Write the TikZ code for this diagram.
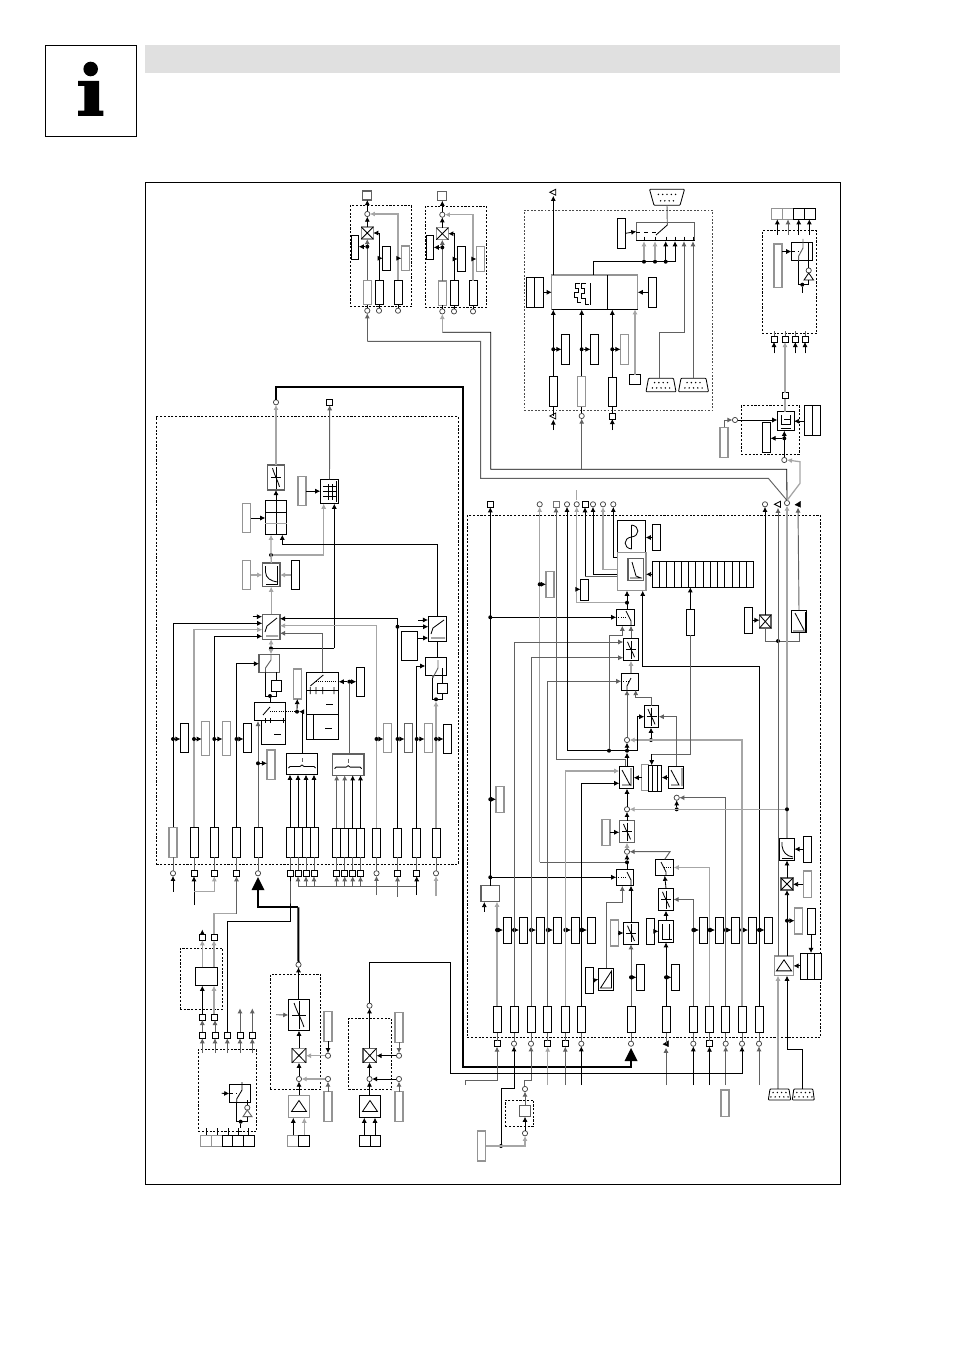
\documentclass[tikz,border=0pt]{standalone}
\usetikzlibrary{arrows.meta,calc}
\tikzset{
 x=0.75pt,y=-0.75pt,
 kl/.style={draw=black,line width=.62pt},
 gl/.style={draw=black!62,line width=.7pt},
 ll/.style={draw=black!35,line width=.95pt},
 xl/.style={draw=black!35,line width=1.4pt},
 tl/.style={draw=black,line width=1.5pt},
 ar/.style={-{Latex[length=3.8pt,width=3.8pt]}},
 bk/.style={rectangle,draw=black,line width=.7pt,inner sep=0,outer sep=0,fill=white},
 bg/.style={rectangle,draw=black!42,line width=.95pt,inner sep=0,outer sep=0,fill=white},
 bm/.style={rectangle,draw=black!62,line width=.85pt,inner sep=0,outer sep=0,fill=white},
 dp/.style={rectangle,draw=black,line width=.5pt,dash pattern=on 1.6pt off 1.2pt,inner sep=0,outer sep=0},
 hdr/.style={rectangle,fill=black!12,inner sep=0,outer sep=0},
 cc/.style={circle,draw=black!75,line width=.55pt,fill=white,inner sep=0,outer sep=0,minimum size=3.9pt},
 ss/.style={rectangle,draw=black,line width=.65pt,fill=white,inner sep=0,outer sep=0,minimum size=4.4pt},
 dd/.style={circle,fill=black,inner sep=0,outer sep=0,minimum size=3pt},
}
\newcommand\Bx[6][bk]{\node[#1,minimum width={(#5-#3)*.75pt},minimum height={(#6-#4)*.75pt}] (#2) at ({(#3+#5)/2},{(#4+#6)/2}) {};}
\newcommand\Vb[5][bk]{\node[#1,minimum width=6pt,minimum height={(#5-#4)*.75pt}] (#2) at (#3,{(#4+#5)/2}) {};}
\newcommand\Ci[3]{\node[cc] (#1) at (#2,#3) {};}
\newcommand\Sq[3]{\node[ss] (#1) at (#2,#3) {};}
\newcommand\Dt[3]{\node[dd] (#1) at (#2,#3) {};}
% dot on a line and short arrow to a bar on its right
\newcommand\Tap[4]{\Dt{#1}{#2}{#3}\draw[kl,ar] (#1) -- (#1 -| #4.west);}
\newcommand\Tal[4]{\Dt{#1}{#2}{#3}\draw[kl,ar] (#1) -- (#1 -| #4.east);}
\newcommand\Xs[1]{\draw[kl] (#1.north west)--(#1.south east) (#1.north east)--(#1.south west);}
\newcommand\Scv[3]{\draw[kl,shift={(#1.center)}] (-#2,0)--(#2,0) (0,-#3)--(0,#3);
 \draw[kl,shift={(#1.center)}] (-#2*.7,-#3*.85) .. controls (-#2*.2,-#3*.1) and (#2*.2,#3*.1) .. (#2*.7,#3*.85);}
\newcommand\Tri[1]{\draw[kl,shift={(#1.center)}] (0,-6)--(7.5,5)--(-7.5,5)--cycle;}
\newcommand\Brc[1]{\draw[kl,shift={(#1.center)}] (-13.5,4)--(-12,2.5)--(-2,2.5)--(0,1)--(2,2.5)--(12,2.5)--(13.5,4);
 \draw[gl,shift={(#1.center)}] (0,-6)--(0,-2);}
\newcommand\Lt[3]{\coordinate (#1) at (#2,#3); \draw[kl,fill=white] ({#2-3.5},#3)--({#2+2.5},{#3-3})--({#2+2.5},{#3+3})--cycle;}
\newcommand\Bt[3]{\coordinate (#1) at (#2,#3); \draw[black,fill=black,line width=.2pt] ({#2-3},{#3+.5})--({#2+2.5},{#3-3})--({#2+2.5},{#3+3})--cycle;}
\newcommand\BigT[3]{\coordinate (#1) at (#2,{#3+13}); \fill ({#2},#3)--({#2+6.5},{#3+13})--({#2-6.5},{#3+13})--cycle;}
\newcommand\Dsb[7]{\coordinate (#1) at (#2,{(#3+#4)/2});
 \draw[kl,fill=white,rounded corners=.6pt] ({#2-#5},#3)--({#2+#5},#3)--({#2+#6},#4)--({#2-#6},#4)--cycle;
 \pgfmathtruncatemacro\nb{9-#7}
 \foreach \i in {1,...,#7} \fill ({#2+(\i-(#7+1)/2)*4.3},{#3+(#4-#3)*.32}) circle[radius=.8];
 \foreach \i in {1,...,\nb} \fill ({#2+(\i-(\nb+1)/2)*4.3},{#3+(#4-#3)*.72}) circle[radius=.8];}
% one of the two gated output groups at the top
\newcommand\TopG[1]{
 \Bx[dp]{#1p}{350.3}{205.3}{411.7}{306.7}
 \Bx[bm]{#1s}{362.8}{191}{371.8}{200}
 \Ci{#1c}{367.3}{214}
 \Bx[bg]{#1x}{361.3}{227}{373.3}{239}\Xs{#1x}
 \Bx{#1l}{351.3}{235}{358.7}{259}
 \Vb[bg]{#1b1}{367.3}{280.3}{304.7}
 \Vb{#1b2}{379}{280}{304.7}
 \Vb{#1b3}{398}{280}{304.7}
 \Vb{#1r1}{386.7}{246}{270.7}
 \Vb[bg]{#1r2}{405.4}{246}{270.7}
 \Ci{#1c1}{367.3}{310.7}\Ci{#1c2}{379}{310.7}\Ci{#1c3}{398}{310.7}
 \draw[kl,ar] (#1c.north)--(#1s.south);
 \draw[kl,ar] (#1x.north)--(#1c.south);
 \draw[gl,ar] (#1b1.north)--(#1x.south);
 \draw[ll,ar] (#1b3.north)|-(#1c.east);
 \draw[kl,ar] (#1b2.north)|-(#1x.east);
 \Tal{#1d}{367.3}{246.7}{#1l}
 \draw[kl,ar] (379,258.3)--(#1r1.west |- 0,258.3);
 \draw[kl,ar] (398,258.3)--(#1r2.west |- 0,258.3);
 \draw[kl] (#1b1.south)--(#1c1.north) (#1b2.south)--(#1c2.north) (#1b3.south)--(#1c3.north);
}
\begin{document}
\begin{tikzpicture}
\useasboundingbox (0,0) rectangle (953,1348);
\fill[white] (0,0) rectangle (953,1348);
\Bx[hdr]{hdr}{145}{45}{840}{73}
\Bx{icon}{45}{45}{136}{136}
\fill (90.7,69) circle[radius=7.3];
\fill (78,81)--(99,81)--(99,110.7)--(103.3,110.7)--(103.3,116)--(78,116)--(78,110.7)--(84.3,110.7)--(84.3,86)--(78,86)--cycle;
\Bx{frame}{145.5}{182.5}{840.5}{1184}
\Bx[dp]{pL}{156.5}{416.5}{458}{864.5}
\Bx[dp]{pR}{467.3}{515.5}{820.7}{1037.3}
\node[rectangle,draw=black!70,line width=.5pt,dash pattern=on 1.4pt off 1.2pt,inner sep=0,outer sep=0,minimum width={188.4*.75pt},minimum height={200*.75pt}] (pT) at (618.5,310.3) {};

%%% TOP GROUPS
\begin{scope}\TopG{a}\end{scope}
\begin{scope}[shift={(75,.7)}]\TopG{b}\end{scope}

%%% RIGHT-TOP PANEL
\Lt{tq}{553.3}{192.3}
\Dsb{dbT}{667}{189.3}{205.3}{17.5}{13}{5}
\Bx[bg]{main}{551.7}{275}{637.7}{309.3}
\draw[kl] (607.7,275)--(607.7,309.3) (551.7,309.3)--(637.7,309.3);
\draw[kl] (580,283.5)--(575,283.5)--(575,288)--(578,288)--(578,292)--(574,292)--(574,297)--(577,297)--(577,302)--(581,302)
 (586,283.5)--(581,283.5)--(581,288)--(584,288)--(584,293)--(581,293)--(581,298)--(585,298)--(585,304)--(589,304)
 (590,283)--(590,305);
\Bx{mL}{526.7}{277.3}{543}{307.3}\draw[kl] (mL.north)--(mL.south);
\Vb{mR}{652.5}{277.3}{307.3}
\Bx[bm]{sw0}{636.3}{222.3}{694.7}{240.7}
\draw[kl] (636.3,240.7)--(694.7,240.7);
\Vb{swb}{621.5}{218.3}{248.3}
\draw[kl,ar] (swb.east)--(sw0.west);
\draw[kl,dashed] (636.3,232)--(656,232);
\draw[kl] (656,235)--(667.3,225);
\draw[gl] (dbT)++(0,8)--(667.3,225);
\draw[kl] (644,236.7)--(644,240.7) (655,236.7)--(655,240.7) (666,236.7)--(666,240.7) (675,236.7)--(675,240.7) (684,236.7)--(684,240.7) (693,236.7)--(693,240.7);
\Dt{j1}{644}{261.7}\Dt{j2}{655}{261.7}\Dt{j3}{665.7}{261.7}
\draw[kl] (593.3,275)--(593.3,261.7)--(675,261.7);
\draw[ll,ar] (j1)--(644,241.2);
\draw[ll,ar] (j2)--(655,241.2);
\draw[kl,ar] (j3)--(665.7,241.2);
\draw[kl,ar] (675,261.7)--(675,241.2);
\Vb{v1}{553.3}{376.3}{406.7}
\Vb[bg]{v2}{581.7}{376.3}{406.7}
\Vb{v3}{612.3}{377.3}{406.7}
\Vb{u1}{565.5}{334.3}{364.3}
\Vb{u2}{594.5}{334.3}{364.3}
\Vb[bg]{u3}{624.5}{334.3}{364.3}
\Bx{sm}{629.3}{374.7}{640.7}{384.3}
\Dsb{dbA}{661}{378.3}{391.7}{12.5}{15}{4}
\Dsb{dbB}{693.5}{378.3}{391.7}{12.5}{15}{4}
\draw[kl,ar] (v1.north)--(553.3,309.7);
\draw[kl,ar] (v2.north)--(581.7,309.7);
\draw[kl,ar] (v3.north)--(612.3,309.7);
\draw[ll,ar] (sm.north)--(sm.north |- main.south);
\Tap{e1}{553.3}{349.3}{u1}\Tap{e2}{581.7}{349.3}{u2}\Tap{e3}{612.3}{349.3}{u3}
\draw[kl,ar] (mL.east)--(main.west |- mL.east);
\draw[kl,ar] (mR.west)--(main.east |- mR.west);
\draw[kl,ar] (main.north -| tq)--($(tq)+(0,3.5)$);
\draw[gl,ar] (659.7,378.3)--(659.7,332.3)--(684,332.3)--(684,241.2);
\draw[gl,ar] (693,378.3)--(693,241.2);
\Lt{q1}{553.3}{416}\Ci{q2}{581.7}{416}\Sq{q3}{612.3}{416}
\draw[kl] (v1.south)--(q1) (v2.south)--(q2.north) (v3.south)--(q3.north);
\draw[kl,ar] (553.3,430)--($(q1)+(0,3.5)$);
\draw[kl,ar] (612.3,430)--(q3.south);

%%% TOP RIGHT (four-way group)
\Bx[bg]{tb1}{771.7}{208.3}{782.3}{219.3}\Bx[bg]{tb2}{782.3}{208.3}{793.3}{219.3}
\Bx{tb3}{793.3}{208.3}{804.3}{219.3}\Bx{tb4}{804.3}{208.3}{815}{219.3}
\Bx[dp]{pF}{762.3}{230.7}{816.7}{333.7}
\Vb[bg]{fb}{778}{244}{287.3}
\Bx{fsw}{791.3}{242.3}{812.7}{260.7}
\draw[kl,ar] (fb.east |- fsw.west)--(fsw.west);
\draw[kl,densely dashed] (791.3,251.5)--(799,251.5);
\draw[gl] (798.7,260.7)--(798.7,256)--(803,248)--(803,239);
\draw[kl] (808.7,242.3)--(808.7,260.7);
\Ci{finv}{808.7}{270.5}
\draw[kl,fill=white] (808.7,273)--(813.5,280)--(804,280)--cycle;
\draw[kl] (808.7,260.7)--(finv.north);
\Dt{fj}{802.3}{284.7}
\draw[kl] (798.7,260.7)--(798.7,284.7)--(808.7,284.7)--(808.7,280);
\draw[kl] (fj)--(802.3,293.3);
\draw[kl,ar] (777.3,235)--(tb1.south -| 777.3,0);
\draw[gl,ar] (788,235)--(tb2.south -| 788,0);
\draw[kl,ar] (798.7,235)--(tb3.south -| 798.7,0);
\draw[kl,ar] (809.3,235)--(tb4.south -| 809.3,0);
\Sq{f1}{774}{339}\Sq{f2}{785}{339}\Sq{f3}{795.3}{339}\Sq{f4}{805}{339}
\draw[gl] (f1.north)--(774,331) (f2.north)--(785,331) (f3.north)--(795.3,331) (f4.north)--(805,331);
\draw[kl,ar] (774,353.3)--(f1.south);
\draw[kl,ar] (795.3,353.3)--(f3.south);
\draw[kl,ar] (805,353.3)--(f4.south);
\Sq{f5}{785}{395.7}
\draw[xl,ar] (f5.north)--(f2.south);
\Bx[dp]{pG}{741.3}{405.7}{799.3}{454.3}
\Bx{gb}{777.3}{411.7}{794}{430.7}
\draw[kl] (780.5,428)--(791,428) (781,415)--(781,424)--(790,424)--(790,415) (784,419)--(790,419);
\Bx{gR}{804.3}{405.7}{820.7}{435.7}\draw[kl] (gR.north)--(gR.south);
\draw[kl,ar] (gR.west |- gb.east)--(gb.east);
\draw[xl] (785,411.7)--(f5.south);
\Ci{g1}{735}{420}
\draw[kl,ar] (g1.east)--(gb.west |- g1.east);
\Vb[bg]{gL}{724}{427.3}{457.3}
\draw[gl,ar] (gL.north)--(724,420)--(g1.west);
\Vb{gM}{766.5}{422.3}{452.3}
\Ci{hc}{784.3}{460}
\Dt{gd}{784.3}{438.3}
\draw[kl,ar] (gd)--(gM.east |- gd);
\draw[kl,ar] (hc.north)--(hc.north |- gb.south);
\Ci{hub}{787}{503}
\draw[gl] (hub.north)--(768.3,478.3)--(480.7,478.3)--(480.7,341.3)--(367.3,341.3);
\draw[gl,ar] (367.3,341.3)--(ac1.south);
\draw[kl] (hub.north)--(786.7,469.3)--(490.7,469.3)--(490.7,332.3)--(442.3,332.3);
\draw[ll,ar] (442.3,332.3)--(bc1.south);
\draw[ll,ar] (hub.north)--(800,483.3)--(800,461.7)--(hc.east);
\draw[gl,ar] (581.7,469.3)--(q2.south);

%%% LEFT PANEL
\Ci{o1}{276}{402.3}\Sq{o2}{329.7}{402.3}
\Bx[bm]{s1}{267.3}{465}{284.7}{490}\Scv{s1}{5}{11}
\Bx{map}{320.3}{479.3}{338.7}{503.7}
\draw[kl] (323,486)--(336,486) (323,491)--(336,491) (323,496)--(336,496) (328,484)--(328,500) (332,484)--(332,500) (336,481)--(336,502);
\Vb[bg]{mapb}{302}{476.7}{505.7}
\draw[kl,ar] (mapb.east)--(map.west |- mapb.east);
\Bx{spl}{265.3}{500.3}{286.7}{534.7}
\draw[kl] (276,500.3)--(276,534.7) (265.3,512.3)--(286.7,512.3);
\draw[ll] (265.3,523.7)--(286.7,523.7);
\Vb[bg]{splb}{246.7}{503.3}{532.7}
\draw[kl,ar] (splb.east)--(spl.west |- splb.east);
\draw[ll,ar] (s1.north)--(o1.south);
\draw[kl,ar] (spl.north -| s1)--(s1.south);
\draw[gl,ar] (map.north)--(o2.south);
\Bx[bm]{flt}{262.3}{563}{280}{586.7}
\draw[kl] (265.5,566)--(265.5,572) .. controls (266,578) and (270,581) .. (278,582);
\draw[kl] (266,584)--(278,584) (277.5,566)--(277.5,584);
\Vb[bg]{fl}{246.7}{560.3}{589.7}\Vb[bk]{fr}{295.3}{560.3}{589.7}
\draw[ll,ar] (fl.east)--(flt.west |- fl.east);
\draw[ll,ar] (fr.west)--(flt.east |- fr.west);
\Dt{n1}{271}{555}
\draw[ll,ar] (flt.north)--(spl.south -| 271,0);
\draw[ll,ar] (n1)--(323.7,555)--(323.7,503.7);
\draw[kl,ar] (282.3,544)--(282.3,534.7);
\Bx[bm]{SW}{262.3}{614.3}{280}{639.3}
\draw[kl] (265,632)--(267,626)--(277,618) (266,636)--(278,636);
\draw[ll,ar] (SW.north)--(flt.south);
\Bx{SR}{428.3}{616.3}{446.7}{641.7}
\draw[kl] (431,634)--(433,628)--(444,620) (431,638)--(445,638);
\draw[kl] (437.5,616.3)--(437.5,544)--(282.3,544);
\Dt{n2}{271}{648.3}
\draw[kl,ar] (334.3,648.3)--(334.3,503.7);
\draw[kl] (n2)--(334.3,648.3);
\draw[ll,ar] (n2)--(SW.south);
\Vb[bg]{L1}{173}{827.3}{857.3}
\Vb{L2}{194}{827.3}{857.3}
\Vb{L3}{214.3}{827.3}{857.3}
\Vb{L4}{236.5}{827.3}{857.3}
\Vb{L5}{258}{827.3}{857.3}
\foreach \n/\x in {P1/290,P2/298,P3/306,P4/314}{\Vb{\n}{\x}{827.3}{857.3}}
\foreach \n/\x in {Q1/336.7,Q2/344.7,Q3/352.7,Q4/360.5}{\Vb{\n}{\x}{828.3}{857.3}}
\Vb{R1x}{376.5}{828.3}{857.3}
\Vb{R2x}{397.5}{828.3}{857.3}
\Vb{R3x}{416.7}{828.3}{857.3}
\Vb{R4x}{436}{828.3}{857.3}
\draw[kl,ar] (252.7,616.7)--(262,616.7);
\draw[kl,ar] (L1.north)|-(SW.west |- 0,623.3);
\draw[ll,ar] (L2.north)|-(SW.west |- 0,629.7);
\draw[kl,ar] (L3.north)|-(SW.west |- 0,636.3);
\draw[kl,ar] (R2x.north)|-(SW.east |- 0,618.7);
\draw[ll,ar] (R1x.north)|-(SW.east |- 0,625.7);
\draw[gl,ar] (322.7,672.7)|-(SW.east |- 0,633.3);
\Dt{n3}{397.5}{626.7}
\draw[kl,ar] (n3)--(SR.west |- n3);
\draw[kl,ar] (418.3,620)--(428,620);
\Bx{srb}{401.3}{631.7}{417.7}{660.7}
\draw[kl,ar] (417.7,638)--(SR.west |- 0,638);
\Bx{sw2}{425.3}{657.3}{446.7}{675}
\draw[kl] (437.5,641.7)--(437.5,657.3);
\draw[kl,ar] (R3x.north)|-(sw2.west |- 0,666);
\draw[gl] (432.7,675)--(432.7,678)--(438,668)--(438,660);
\draw[kl] (442.3,668)--(442.3,683);
\Bx{sb2}{437.3}{683.3}{447.3}{693.3}
\Dt{n4}{436}{699.3}
\draw[kl] (432.7,678)--(432.7,699.3)--(442.3,699.3)--(442.3,693.3);
\draw[ll,ar] (R4x.north)--(n4);
\Bx[bm]{sw1}{259}{654.3}{279.3}{672.3}
\draw[ll,ar] (n2)--(sw1.north -| n2);
\draw[kl,ar] (L4.north)|-(sw1.west |- 0,663.7);
\draw[kl] (265.5,672.3)--(265.5,696)--(276,696)--(276,691.3);
\draw[gl] (265.5,672.3)--(265.5,668)--(271,660)--(271,655);
\Bx{sb1}{271}{680.7}{281.7}{691.3}
\draw[kl] (276,672.3)--(276,680.7);
\Dt{n5}{270}{696}
\Bx{bigB}{306.3}{672.7}{338.7}{739.3}
\draw[kl] (306.3,690.7)--(338.7,690.7) (306.3,714.3)--(338.7,714.3) (313.7,714.3)--(313.7,739.3);
\draw[kl] (310.3,686)--(323.3,675) (310.3,687)--(310.3,694) (316,687)--(316,694) (322.7,687)--(322.7,694) (334,687)--(334,694);
\draw[kl,densely dotted] (316,681.7)--(338.7,681.7);
\draw[kl] (326,704.3)--(332.7,704.3) (325,728.3)--(331.7,728.3);
\Vb{bigR}{360.3}{667.3}{696.7}
\Vb[bg]{bigL}{297.3}{669}{699}
\Bx{A1}{254.3}{702.3}{285.7}{720.7}
\Bx{A2}{261.3}{720.7}{285.7}{744.3}
\draw[kl] (263,715)--(270,707);
\draw[kl,densely dotted] (270,711.7)--(285.7,711.7);
\draw[kl] (265,718)--(265,723) (270,718)--(270,723) (283.5,718)--(283.5,723) (274,734.3)--(280.7,734.3);
\draw[kl] (n5)--(A1.north -| n5);
\Dt{n6}{297}{711.7}\draw[kl,densely dotted] (285.7,711.7)--(n6);
\draw[kl,ar] (n6)--(bigL.south);
\draw[kl,ar] (302.7,711.7)--(n6);
\Bx{B1}{286.3}{753.3}{317.7}{774.7}\Brc{B1}
\Bx[bm]{B2}{332.3}{754}{364}{775.3}\Brc{B2}
\draw[kl] (302.7,711.7)--(302.7,753.3);
\Dt{n7}{349.3}{681.7}
\draw[kl,ar] (n7)--(bigB.east |- n7);
\draw[kl,ar] (n7)--(bigR.west |- n7);
\draw[gl] (n7)--(349.3,754);
\foreach \n in {P1,P2,P3,P4}{\draw[kl,ar] (\n.north)--(\n.north |- B1.south);}
\foreach \n in {Q1,Q2}{\draw[gl,ar] (\n.north)--(\n.north |- B2.south);}
\foreach \n in {Q3,Q4}{\draw[kl,ar] (\n.north)--(\n.north |- B2.south);}
\draw[gl,ar] (L5.north)--(258,721);
\Vb[bg]{L5b}{271}{750}{779.3}
\Tap{n8}{258}{763.3}{L5b}
\foreach \b/\x/\n in {a/173/L1,b/194/L2,c/214.3/L3,d/236.5/L4,e/376.5/R1x,f/397.5/R2x,g/416.7/R3x,h/436/R4x}{\Dt{tp\b}{\x}{739}}
\Vb{bA}{184.5}{723.3}{752.7}\Vb[bg]{bB}{205.8}{721.7}{755.7}\Vb[bg]{bC}{226.5}{721.7}{755.7}\Vb{bD}{247.5}{723.3}{752.7}
\Vb[bg]{bE}{387.5}{723.3}{752.7}\Vb[bm]{bF}{408.5}{723.3}{752.7}\Vb[bg]{bG}{428.5}{723.3}{752.7}\Vb{bH}{447.5}{724.3}{753.7}
\draw[kl,ar] (tpa)--(bA.west |- tpa);\draw[kl,ar] (tpb)--(bB.west |- tpb);\draw[kl,ar] (tpc)--(bC.west |- tpc);\draw[kl,ar] (tpd)--(bD.west |- tpd);
\draw[kl,ar] (tpe)--(bE.west |- tpe);\draw[kl,ar] (tpf)--(bF.west |- tpf);\draw[kl,ar] (tpg)--(bG.west |- tpg);\draw[kl,ar] (tph)--(bH.west |- tph);
% terminals under left panel
\Ci{ta}{173}{873.3}\Sq{tb}{194}{873.3}\Sq{tc}{214.3}{873.3}\Sq{td}{236.5}{873.3}\Ci{te}{258}{873.3}
\Sq{tf}{290}{873.3}\Sq{tg}{298}{873.3}\Sq{th}{306}{873.3}\Sq{ti}{314}{873.3}
\Sq{tj}{336.7}{873.3}\Sq{tk}{344.7}{873.3}\Sq{tl1}{352.7}{873.3}\Sq{tm}{360.5}{873.3}
\Ci{tn}{376.5}{873.3}\Sq{to}{397.5}{873.3}\Sq{tp}{416.7}{873.3}\Ci{tq1}{436}{873.3}
\foreach \u/\v in {L1/ta,L2/tb,L3/tc,L4/td,L5/te,P1/tf,P2/tg,P3/th,P4/ti,Q1/tj,Q2/tk,Q3/tl1,Q4/tm,R1x/tn,R2x/to,R3x/tp,R4x/tq1}{\draw[gl] (\u.south)--(\v.north);}
\draw[kl,ar] (173,891.7)--(ta.south);
\draw[kl,ar] (194,905)--(tb.south);
\draw[ll,ar] (194,891.7)--(214.3,891.7)--(tc.south);
\draw[gl] (298,886)--(416.7,886);
\foreach \v in {tg,th,ti,tj,tk,tl1,tm}{\draw[gl,ar] (\v.south |- 0,886)--(\v.south);}
\draw[gl,ar] (376.5,895)--(tn.south);
\draw[gl,ar] (397.5,896.7)--(to.south);
\draw[kl,ar] (416.7,895)--(tp.south);
\draw[ll,ar] (436,896)--(tq1.south);
\BigT{bt2}{258}{877}
\draw[tl] (bt2)--(258,907.3)--(298.3,907.3);

%%% LOWER LEFT
\Bx[dp]{p1}{180}{948.3}{222.7}{1009.3}
\Bx{c1}{195.3}{967.3}{217.7}{985.7}
\Sq{x1}{202.3}{937.3}\Sq{x2}{214}{937.3}
\Sq{x3}{202.3}{1017}\Sq{x4}{214}{1017}
\draw[kl,ar] (x1.north)--(202.3,929.5);
\draw[ll,ar] (202.3,967.3)--(x1.south);
\draw[ll,ar] (214,967.3)--(x2.south);
\draw[kl,ar] (x3.north)--(202.3,985.7);
\draw[ll,ar] (x4.north)--(214,985.7);
\draw[ll] (x2.north)--(214,913.3)--(235.7,913.3);
\draw[gl] (235.7,913.3)--(236.5,913.3)--(236.5,879);
\draw[gl,ar] (236.5,900)--(td.south);
\Sq{y1}{202.3}{1035.3}\Sq{y2}{215}{1035.3}\Sq{y3}{227.3}{1035.3}\Sq{y4}{240}{1035.3}\Sq{y5}{252.3}{1035.3}
\draw[gl,ar] (y1.north)--(x3.south);
\draw[gl,ar] (y2.north)--(x4.south -| y2);
\draw[kl] (y3.north)--(227.3,921.7)--(290,921.7)--(290,886)--(tf.south);
\draw[gl,ar] (y4.north)--(240,1008.3);
\draw[gl,ar] (y5.north)--(252.3,1008.3);
\Bx[dp]{p2}{198.3}{1049.3}{256.7}{1131.3}
\foreach \v in {y1,y2,y3,y4,y5}{\draw[gl,ar] (\v.south |- 0,1053)--(\v.south);}
\Bx{csw}{229.3}{1084.3}{250.7}{1102.7}
\draw[kl,ar] (221.7,1093.3)--(csw.west);
\draw[kl,densely dashed] (229.3,1093.3)--(237,1093.3);
\draw[kl] (236.7,1102.7)--(236.7,1099)--(242,1090)--(242,1082);
\Ci{ci}{247.3}{1107.7}
\draw[gl,fill=white] (247.3,1110)--(252,1116.7)--(243,1116.7)--cycle;
\draw[kl] (247.3,1100)--(ci.north);
\Dt{cj}{240.7}{1121.7}
\draw[kl] (236.7,1102.7)--(236.7,1121.7)--(247.3,1121.7)--(247.3,1116.7);
\draw[kl] (cj)--(240.7,1128);
\Bx[bg]{z1}{200.3}{1135.3}{211.3}{1146.3}\Bx[bg]{z2}{211.3}{1135.3}{222.3}{1146.3}
\Bx{z3}{222.3}{1135.3}{232.7}{1146.3}\Bx{z4}{232.7}{1135.3}{243.3}{1146.3}\Bx{z5}{243.3}{1135.3}{254.7}{1146.3}
\draw[kl] (206.3,1128.3)--(206.3,1135.3) (217.3,1128.3)--(217.3,1135.3) (228.3,1128.3)--(228.3,1135.3) (238.3,1128.3)--(238.3,1135.3) (248.3,1128.3)--(248.3,1135.3);
% encoder channel 1
\Bx[dp]{p3}{270.3}{974.3}{320.7}{1089.7}
\Ci{m1}{298.5}{964.7}
\Bx{mS}{288.3}{999.3}{309.7}{1030.7}\Scv{mS}{7}{14}
\draw[gl,ar] (276,1014.7)--(mS.west);
\Bx[bg]{mX}{292}{1048.3}{306}{1062.7}\Xs{mX}
\Ci{m2}{299}{1079}
\Bx[bg]{mT}{288.3}{1095.3}{309.7}{1117.7}\Tri{mT}
\Bx[bg]{mB1}{287.7}{1135.3}{298.7}{1146.3}\Bx{mB2}{298.7}{1135.3}{309.7}{1146.3}
\draw[kl,ar] (293.3,1135.3)--(293.3,1117.7);
\draw[ll,ar] (304.3,1135.3)--(304.3,1117.7);
\draw[kl,ar] (m1.north |- mS.north)--(m1.south);
\draw[kl,ar] (mX.north)--(mS.south -| mX);
\draw[kl,ar] (m2.north)--(mX.south -| m2);
\draw[kl,ar] (mT.north -| m2)--(m2.south);
\Ci{m3}{328}{1055.7}\Ci{m4}{328}{1079}
\Vb[bg]{m5}{328}{1011.3}{1041.3}\Vb[bg]{m6}{328}{1091.7}{1121.7}
\draw[kl,ar] (m5.south)--(m3.north);
\draw[gl,ar] (m6.north)--(m4.south);
\draw[ll,ar] (m3.west)--(mX.east |- m3);
\draw[ll,ar] (m4.west)--(m2.east);
\draw[tl] (298.3,907.3)--(m1.north);
% encoder channel 2
\Bx[dp]{p4}{348.7}{1018.3}{391.7}{1089.7}
\Ci{r1}{369.5}{1005.7}
\Bx[bm]{rX}{363}{1048.3}{376.5}{1062.7}\Xs{rX}
\Ci{r2}{369.5}{1079}
\Bx{rT}{359.3}{1095.3}{380.7}{1117.7}\Tri{rT}
\Bx{rB1}{359.3}{1135.3}{370}{1146.3}\Bx{rB2}{370}{1135.3}{380.7}{1146.3}
\draw[kl,ar] (364.3,1135.3)--(364.3,1117.7);
\draw[kl,ar] (375,1135.3)--(375,1117.7);
\draw[kl,ar] (rX.north -| r1)--(r1.south);
\draw[kl,ar] (r2.north)--(rX.south -| r2);
\draw[kl,ar] (rT.north -| r2)--(r2.south);
\Ci{r3}{399}{1055.7}\Ci{r4}{399}{1079}
\Vb[bg]{r5}{399}{1012.3}{1042.3}\Vb[bg]{r6}{399}{1091.7}{1121.7}
\draw[gl,ar] (r5.south)--(r3.north);
\draw[gl,ar] (r6.north)--(r4.south);
\draw[kl,ar] (r3.west)--(rX.east |- r3);
\draw[kl,ar] (r4.west)--(r2.east);

%%% RIGHT PANEL: lower row
\foreach \n/\x in {R1/497,R2/514,R3/531,R4/547.7,R5/565.3,R6/581.3,R7/631,R8/666,R9/693.3,R10/709.5,R11/725.7,R12/742,R13/759}{\Vb{\n}{\x}{1006}{1032.7}}
\Sq{T1}{497}{1043.7}\Ci{T2}{514}{1043.7}\Ci{T3}{531}{1043.7}\Sq{T4}{547.7}{1043.7}\Sq{T5}{565.3}{1043.7}\Ci{T6}{581.3}{1043.7}\Ci{T7}{631}{1043.7}
\Bt{T8}{666}{1043.7}
\Ci{T9}{693.3}{1043.7}\Sq{T10}{709.5}{1043.7}\Ci{T11}{725.7}{1043.7}\Ci{T12}{742}{1043.7}\Ci{T13}{759}{1043.7}
\foreach \u/\v in {R1/T1,R2/T2,R3/T3,R4/T4,R5/T5,R6/T6,R7/T7,R9/T9,R10/T10,R11/T11,R12/T12,R13/T13}{\draw[gl] (\u.south)--(\v.north);}
\draw[gl] (R8.south)--(T8);
\BigT{bt1}{631}{1048}
\draw[tl] (o1.north)--(276,386.5)--(462.7,386.5)--(462.7,1066.7)--(631,1066.7)--(bt1);
\draw[gl,ar] (465,1085)--(465,1080)--(497,1080)--(T1.south);
\draw[kl,ar] (501,1146)--(501,1088.3)--(514,1088.3)--(T2.south);
\Dt{w1}{501}{1146}
\draw[gl,ar] (524.5,1089)--(524.5,1080)--(531,1080)--(T3.south);
\draw[ll,ar] (547.7,1085)--(T4.south);
\draw[gl,ar] (565.3,1085)--(T5.south);
\draw[kl,ar] (581.3,1085)--(T6.south);
\draw[gl,ar] (666,1085)--($(T8)+(0,4)$);
\draw[kl,ar] (693.3,1085)--(T9.south);
\draw[kl,ar] (709.5,1085)--(T10.south);
\draw[gl,ar] (725.7,1085)--(T11.south);
\draw[gl,ar] (759,1085)--(T13.south);
\draw[kl,ar] (r1.north)--(369.5,962.3)--(450,962.3)--(450,1073.3)--(742,1073.3)--(T12.south);
\Vb[bg]{w2}{725}{1090}{1116.7}
\Ci{w3}{525}{1089}
\Bx[dp]{w4}{505.3}{1100}{533.7}{1126.7}
\Bx[bm]{w5}{519.3}{1105.7}{530.7}{1116.7}
\Ci{w6}{525}{1133.3}
\Vb[bg]{w7}{481.7}{1131}{1161}
\draw[gl,ar] (w5.north)--(w3.south);
\draw[kl,ar] (w6.north)--(w5.south);
\draw[ll,ar] (w7.east |- w1)--(525,1146)--(w6.south);
% bars and columns
\Bx[bm]{rb1}{481}{885.7}{499.6}{901.7}
\foreach \n/\x in {h1/507,h2/523,h3/540,h4/557,h5/575,h6/591,h9/703,h10/719,h11/735.5,h12/752,h13/768.5}{\Vb{\n}{\x}{917}{943.3}}
\draw[ll,ar] (R1.north)--(R1.north |- rb1.south);
\draw[kl,ar] (484.3,911.7)--(484.3,902);
\Sq{t1}{490.3}{504.3}\Ci{t2}{539.7}{504.3}\node[ss,draw=black!55] (t3) at (556,504.3) {};\Ci{t4}{567}{504.3}\Ci{t5}{576.7}{504.3}\Sq{t6}{585}{504.3}\Ci{t7}{593}{504.3}\Ci{t8}{603}{504.3}\Ci{t9}{613.3}{504.3}
\Bx{Ssin}{617.3}{520.3}{645.7}{552.3}
\draw[kl] (631.5,525)..controls (640,526) and (640,536) ..(631.5,537) ..controls (623,538) and (623,548) .. (631.5,549) (631.5,525)--(631.5,549);
\Vb{sinb}{656}{524.3}{550.7}
\draw[kl,ar] (sinb.west)--(Ssin.east |- sinb.west);
\Bx[bg]{chart}{617.3}{552.3}{646}{590.7}
\Bx[bm]{chi}{628}{558.3}{643.3}{580.7}
\draw[kl] (632,562)--(636,576)--(641,578) (630,578)--(642,578);
\Bx{tab}{652.3}{561.3}{753.7}{587.3}
\foreach \i in {1,...,13}{\draw[kl] ({652.3+\i*7.24},561.3)--({652.3+\i*7.24},587.3);}
\draw[kl,ar] (tab.west)--(chart.east |- tab.west);
\Vb{tb8}{690.3}{609.3}{635.3}
\draw[kl,ar] (tb8.north)--(tb8.north |- tab.south);
\Bx{C1}{616.3}{609.3}{634.7}{625.7}
\draw[kl,densely dotted] (616.3,617.3)--(625,617.3);
\draw[kl] (626,611)--(631,621)--(631,625.7);
\Bx{C3}{623.3}{638.3}{638.7}{660.7}\Scv{C3}{5}{9}
\Bx{C2}{621.3}{673.3}{638.7}{690}
\draw[kl,densely dotted] (621.3,681.3)--(628,681.3);
\draw[kl] (627,690)--(627,686)--(631,678);
\Bx{C4}{644.3}{705.7}{658.7}{727.7}\Scv{C4}{5}{9}
\Ci{cB}{627}{740}\Dt{dB1}{627}{750.7}\Dt{dB2}{609}{750.7}\Dt{dB3}{651}{740}
\Bx{C5}{619.3}{766.3}{633.7}{788.7}
\draw[kl] (622,770)--(630,785)--(622,785) (631,768)--(631,786);
\Bx[bk]{C7}{668.3}{766.3}{683.7}{788.7}
\draw[kl] (671,770)--(679,785)--(671,785) (682,768)--(682,786);
\Bx[bg]{C6s}{641.7}{764.7}{648.3}{790.7}
\Bx{C6}{648.3}{765.3}{661.7}{791.7}
\draw[kl] (652.7,765.3)--(652.7,791.7) (657.2,765.3)--(657.2,791.7);
\draw[kl,ar] (C6s.west)--(C5.east |- C6s.west);
\draw[kl,ar] (C7.west)--(C6.east |- C7.west);
\Ci{cA}{676.7}{797.7}\Dt{dA}{676.7}{809.3}
\Ci{cC}{627}{809.3}
\Bx[bm]{C8}{619.3}{820.7}{634.7}{842.7}\Scv{C8}{5}{9}
\Vb[bg]{C8b}{606}{819.3}{845.3}
\draw[kl,ar] (C8b.east)--(C8.west |- C8b.east);
\Ci{cD}{627}{851.7}\Dt{dD}{627}{862.3}
\Bx{S4}{616.3}{869.3}{633.7}{885.7}
\draw[kl,densely dotted] (616.3,877.3)--(625,877.3);
\draw[kl] (631,885.7)--(631,880)--(627,872);
\Dt{dS}{490.3}{877.3}\Dt{dS2}{490.3}{617.3}
\draw[kl,ar] (rb1.north)--(t1.south);
\draw[kl,ar] (dS)--(S4.west |- dS);
\draw[kl,ar] (dS2)--(C1.west |- dS2);
\Vb[bg]{bar0}{500}{786.3}{812.3}
\Tap{dbar0}{490.3}{799.3}{bar0}
\draw[ll,ar] (t2.south |- dD)--(t2.south);
\draw[gl] (t2.south |- dD)--(dD);
\Vb[bg]{barT2}{550}{571.3}{597.3}
\Tap{dT2}{539.7}{584.3}{barT2}
\draw[kl,ar] (dD)--(cD.south);
\draw[ll,ar] (cD.north)--(C8.south -| cD);
\draw[kl,ar] (C8.north -| cC)--(cC.south);
\draw[kl,ar] (cC.north)--(C5.south -| cC);
\draw[kl] (S4.north -| dD)--(dD);
\draw[kl,ar] (C5.north -| cB)--(dB1);
\draw[kl,ar] (dB1)--(cB.south);
\Bx[bk]{E1}{623.5}{922.3}{638.5}{944.3}\Scv{E1}{5}{9}
\Bx{E2}{658.5}{920.7}{673.5}{942.3}
\draw[kl] (662,924)--(662,939)--(672,939) (669,924)--(669,939);
\Bx{E3}{658.5}{888.3}{673.5}{910.7}\Scv{E3}{5}{9}
\Bx{S5}{655.7}{859.3}{673.7}{875.7}
\draw[kl,densely dotted] (664,867.7)--(673.7,867.7);
\draw[kl] (666,875.7)--(666,872)--(661,862);
\draw[gl,ar] (R7.north)--(E1.south);
\draw[kl,ar] (R8.north)--(E2.south);
\draw[kl,ar] (E1.north)--(631,885.7);
\draw[kl,ar] (E2.north)--(E3.south);
\draw[kl,ar] (E3.north)--(S5.south);
\draw[gl,ar] (R9.north)|-(E3.east);
\draw[xl,ar] (R10.north)|-(S5.east);
\draw[gl,ar] (S5.north)--(670,851.7)--(cD.east);
\Vb{bE1}{640.5}{964.3}{990.3}
\Vb{bE2}{675.5}{964.3}{990.3}
\Tap{dE1}{631}{977.3}{bE1}\Tap{dE2}{666}{977.3}{bE2}
\Vb[bg]{bE3}{614.3}{920}{946}
\draw[kl,ar] (bE3.east)--(E1.west |- bE3.east);
\Vb{bE4}{650}{918.3}{944.3}
\draw[kl,ar] (bE4.east)--(E2.west |- bE4.east);
\Bx{Fb}{598.3}{968.3}{613.7}{990.3}
\draw[kl] (600.5,988)--(611.5,971)--(611.5,988)--cycle;
\Vb{Fbb}{589.5}{967.3}{993.3}
\draw[kl,ar] (Fbb.east)--(Fb.west);
\draw[gl,ar] (606,968.3)--(606,902.3)--(622.3,902.3)--(622.3,885.7);
\foreach \n/\x/\m in {a/497/h1,b/514/h2,c/531/h3,d/547.7/h4,e/565.3/h5,f/581.3/h6,g/693.3/h9,h/709.5/h10,i/725.7/h11,j/742/h12,k/759/h13}{\Dt{v\n}{\x}{930}\draw[kl,ar] (v\n)--(\m.west |- v\n);}
% long verticals
\draw[gl,ar] (R2.north)|-(C3.west |- 0,642);
\draw[gl,ar] (R3.north)|-(C3.west |- 0,657.7);
\draw[gl,ar] (R4.north)|-(C2.west |- 0,681.3);
\draw[ll,ar] (R5.north)|-(C5.west |- 0,771);
\draw[kl,ar] (R6.north)|-(C5.west |- 0,783.3);
\draw[gl,ar] (R11.north)|-(cA.east);
\draw[ll,ar] (R12.north)|-(cB.east);
\draw[kl,ar] (dB3)--(C4.south -| dB3);
\draw[kl,ar] (R13.north)--(759,666.7)--(642.7,666.7)--(642.7,590.7);
\draw[ll,ar] (787,809.3)--(cC.east);
\draw[kl,ar] (dA)--(cA.south);
\draw[gl,ar] (C7.north -| cA)--(676.7,716.7)--(C4.east |- 0,716.7);
\draw[gl] (690.3,635.3)--(690.3,754.3)--(651.7,754.3);
\draw[kl,ar] (651.7,754.3)--(651.7,765.3);
% top terminals wiring
\draw[gl,ar] (625,766.3)--(625,759)--(556,759)--(t3.south);
\draw[kl,ar] (dB1)--(567,750.7)--(t4.south);
\draw[gl,ar] (dB2)--(609,635)--(622.3,635)--(622.3,625.7);
\draw[kl,ar] (dB1)--(637.3,750.7)--(637.3,716.7)--(C4.west |- 0,716.7);
\draw[gl,ar] (C3.north -| 631,0)--(631,625.7);
\draw[ll,ar] (631,673.3)--(631,660.7);
\draw[gl,ar] (cB.north)--(C2.south -| cB);
\draw[gl,ar] (651,705.7)--(651,697.7)--(635.7,697.7)--(635.7,690);
\Dt{dC}{627}{602.7}
\draw[kl,ar] (C1.north -| dC)--(chart.south -| dC);
\draw[ll,ar] (dC)--(576.7,602.7)--(t5.south);
\Vb{bt5}{584.5}{579.3}{600.7}
\draw[kl,ar] (576.7,589.3)--(bt5.west |- 0,589.3);
\draw[gl] (617.3,576)--(585,576);
\draw[kl,ar] (585,576)--(t6.south);
\draw[kl,ar] (617.3,574)--(593,574)--(t7.south);
\draw[ll,ar] (617.3,569.3)--(603,569.3)--(t8.south);
\draw[kl,ar] (617.3,557.3)--(613.3,557.3)--(t9.south);
\draw[ll] (576.7,500)--(576.7,490);
% far right column
\Ci{tA}{765}{504.3}\Lt{tB}{778}{504.3}\Bt{tC}{798}{504.3}
\Bx[bm]{Xr}{759.5}{615}{771}{628}\Xs{Xr}
\Bx{Xp}{791.5}{610}{806.5}{632.5}
\draw[kl] (795,613)--(804,630) (793,631)--(805,631) (805.5,612)--(805.5,632);
\Vb{Xb}{748.3}{607.4}{633}
\draw[kl,ar] (Xb.east)--(Xr.west |- Xb.east);
\draw[kl,ar] (765,615)--(tA.south);
\draw[gl,ar] (799,610)--(798,507.5);
\draw[gl] (765,628)--(765,641)--(799,641)--(799,632.5);
\Dt{dXr}{778}{641}
\Bx[bg]{Tb}{774.5}{956}{793.5}{975.7}\Tri{Tb}
\Bx{Tr}{800.3}{953}{821.4}{979}
\draw[kl] (807.3,953)--(807.3,979) (814.3,953)--(814.3,979);
\draw[kl,ar] (Tr.west |- Tb.east)--(Tb.east);
\Vb[bg]{Br1}{798.5}{908}{934}
\Vb{Br2}{811}{908}{934}
\draw[kl,ar] (Br2.south)--(Br2.south |- Tr.north);
\Bx{Cv}{779.5}{838}{794.5}{860.4}
\draw[kl] (782,842)--(782,846) .. controls (783,852) and (786,856) .. (793,857) (782,858.5)--(793,858.5);
\Bx[bm]{Xs2}{781}{878}{793}{890}\Xs{Xs2}
\Vb{Cvb}{807.7}{836.3}{862}
\Vb[bg]{Xsb}{807.4}{871}{897.6}
\draw[kl,ar] (Cvb.west)--(Cv.east |- Cvb.west);
\draw[kl,ar] (Xsb.west)--(Xs2.east |- Xsb.west);
\draw[kl,ar] (Xs2.north)--(Cv.south -| Xs2);
\draw[kl,ar] (787,956)--(Xs2.south);
\Dt{dBr}{787}{920.7}\draw[kl,ar] (dBr)--(Br1.west |- dBr);
\draw[xl,ar] (Cv.north)--(hub.south);
\Dt{dHub}{787}{809.3}
\draw[gl,ar] (778,956)--($(tB)+(0,3.5)$);
\draw[ll,line width=1.3pt,ar] (778,1089)--(778,975.7);
\Dsb{dsA}{779.5}{1089}{1100}{9.5}{11.2}{4}
\Dsb{dsB}{803.3}{1089}{1100}{9.5}{11}{4}
\draw[kl,ar] (802.7,1089)--(802.7,1049.3)--(787,1049.3)--(787,975.7);
\end{tikzpicture}
\end{document}
